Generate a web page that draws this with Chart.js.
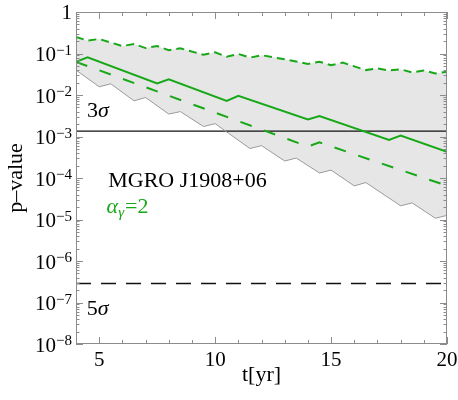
<!DOCTYPE html>
<html>
<head>
<meta charset="utf-8">
<script src="https://cdn.jsdelivr.net/npm/chart.js@4.4.1/dist/chart.umd.min.js"></script>
<style>
  html, body { margin: 0; padding: 0; background: #fff; }
  #wrap { width: 458px; height: 400px; }
</style>
</head>
<body>
<div id="wrap"><canvas id="pv" width="458" height="400"></canvas></div>
<script>
/* ===== p-value vs. observation time ===== */
(function () {
  "use strict";

  // (p-values)
  var solidYears = [4, 4.5, 7.5, 8, 10.5, 11, 14, 14.5, 17.5, 18, 20];
  var solidP = [0.063, 0.081, 0.0191, 0.024, 0.0072, 0.0095, 0.00257, 0.0031, 8.3e-4, 1.05e-3, 4.3e-4];

  var dashedYears = [4, 14, 14.5, 20];
  var dashedP = [0.063, 5.75e-4, 7.2e-4, 6.5e-5];

  var dottedYears = [4, 4.5, 5, 6, 6.5, 7, 7.5, 8, 8.5, 9.5, 10, 10.5, 11, 11.5, 12, 13, 14, 14.5, 15, 15.5, 16.5, 17, 17.5, 18, 18.5, 19, 19.5, 20];
  var dottedP = [0.251, 0.204, 0.224, 0.151, 0.170, 0.135, 0.151, 0.120, 0.133, 0.0933, 0.107, 0.0832, 0.0977, 0.0794, 0.0912, 0.0724, 0.0562, 0.0631, 0.0525, 0.0603, 0.0398, 0.0437, 0.0389, 0.0417, 0.0347, 0.0389, 0.0331, 0.0363];

  var bandYears = [4, 5, 5.5, 6.5, 7, 8, 8.5, 9.5, 10, 11.5, 12, 13, 13.5, 14.5, 15, 16, 16.5, 18, 18.5, 19.5, 20];
  var bandLowP = [0.0398, 0.0158, 0.0186, 7.24e-3, 8.71e-3, 3.47e-3, 3.98e-3, 1.74e-3, 2.04e-3, 5.13e-4, 6.03e-4, 2.57e-4, 3.02e-4, 1.32e-4, 1.55e-4, 6.46e-5, 7.76e-5, 2.14e-5, 2.51e-5, 1.07e-5, 1.26e-5];

  var sigma3 = 1.35e-3, sigma5 = 2.87e-7;
  var xRange = [4, 20];
  var xMajor = [5, 10, 15, 20];
  var yDecades = [-8, -7, -6, -5, -4, -3, -2, -1, 0];

  var GREEN = "#17a817";
  var SERIF = "'Liberation Serif', 'DejaVu Serif', serif";

  function pts(xs, ys) {
    return xs.map(function (x, i) { return { x: x, y: ys[i] }; });
  }

  function line(label, data, color, width, dash, extra) {
    var d = { label: label, data: data, borderColor: color, borderWidth: width, borderDash: dash || [],
      pointRadius: 0, tension: 0, fill: false };
    for (var k in extra || {}) d[k] = extra[k];
    return d;
  }

  // frame with inward ticks on all sides, tick labels, text
  var framePlugin = {
    id: "frame",
    afterDraw: function (chart) {
      var c = chart.ctx, a = chart.chartArea, xs = chart.scales.x, ys = chart.scales.y;
      c.save();
      c.strokeStyle = "#8c8c8c";
      c.lineWidth = 1;
      c.strokeRect(a.left + 0.5, a.top + 0.5, a.right - a.left - 1, a.bottom - a.top - 1);

      c.beginPath();
      for (var t = xRange[0]; t <= xRange[1]; t++) {
        var px = Math.round(xs.getPixelForValue(t)) + 0.5;
        var len = xMajor.indexOf(t) >= 0 ? 7 : 4;
        c.moveTo(px, a.bottom); c.lineTo(px, a.bottom - len);
        c.moveTo(px, a.top); c.lineTo(px, a.top + len);
      }
      yDecades.forEach(function (e) {
        for (var k = 1; k <= 9; k++) {
          if (e === 0 && k > 1) break;
          var py = Math.round(ys.getPixelForValue(k * Math.pow(10, e))) + 0.5;
          var l = k === 1 ? 7 : 3.5;
          c.moveTo(a.left, py); c.lineTo(a.left + l, py);
          c.moveTo(a.right, py); c.lineTo(a.right - l, py);
        }
      });
      c.stroke();

      // tick labels
      c.fillStyle = "#000";
      c.textBaseline = "alphabetic";
      var rx = a.left - 4;
      yDecades.forEach(function (e) {
        var py = ys.getPixelForValue(Math.pow(10, e));
        if (e === 0) {
          c.font = "21px " + SERIF; c.textAlign = "right";
          c.fillText("1", rx, py + 7);
          return;
        }
        c.font = "15px " + SERIF; c.textAlign = "right";
        var sup = "\u2212" + (-e);
        c.fillText(sup, rx, py + 1);
        var w = c.measureText(sup).width;
        c.font = "21px " + SERIF;
        c.fillText("10", rx - w, py + 7.5);
      });
      c.textAlign = "center";
      c.font = "21px " + SERIF;
      xMajor.forEach(function (t) {
        c.fillText(String(t), xs.getPixelForValue(t), a.bottom + 22);
      });

      // axis titles
      c.font = "22px " + SERIF;
      c.fillText("t[yr]", (a.left + a.right) / 2, a.bottom + 37);
      c.save();
      c.translate(22, (a.top + a.bottom) / 2);
      c.rotate(-Math.PI / 2);
      c.fillText("p\u2013value", 0, 0);
      c.restore();

      // annotations
      c.textAlign = "left";
      sigmaText("3", xs.getPixelForValue(4.47), ys.getPixelForValue(2.95e-3));
      sigmaText("5", xs.getPixelForValue(4.46), ys.getPixelForValue(5.0e-8));
      c.font = "22px " + SERIF;
      c.fillText("MGRO J1908+06", xs.getPixelForValue(5.39), ys.getPixelForValue(6.1e-5));

      var ax = xs.getPixelForValue(5.32), ay = ys.getPixelForValue(1.45e-5);
      c.fillStyle = GREEN;
      c.font = "italic 22px " + SERIF;
      c.fillText("\u03b1", ax, ay);
      ax += c.measureText("\u03b1").width;
      c.font = "italic 15px " + SERIF;
      c.fillText("\u03b3", ax, ay + 4);
      ax += c.measureText("\u03b3").width + 1;
      c.font = "22px " + SERIF;
      c.fillText("=2", ax, ay);
      c.restore();

      function sigmaText(n, x, y) {
        c.font = "22px " + SERIF;
        c.fillText(n, x, y);
        var w = c.measureText(n).width;
        c.font = "italic 22px " + SERIF;
        c.fillText("\u03c3", x + w, y);
      }
    }
  };

  new Chart(document.getElementById("pv"), {
    type: "line",
    data: {
      datasets: [
        line("solid", pts(solidYears, solidP), GREEN, 2),
        line("dashed", pts(dashedYears, dashedP), GREEN, 2, [12, 13]),
        line("dotted", pts(dottedYears, dottedP), GREEN, 2, [8, 5]),
        line("band", pts(bandYears, bandLowP), "#9a9a9a", 1, [], { fill: { target: 2 }, backgroundColor: "#e6e6e6" }),
        line("3sigma", pts(xRange, [sigma3, sigma3]), "#111", 1.3),
        line("5sigma", pts(xRange, [sigma5, sigma5]), "#111", 1.3, [15, 10])
      ]
    },
    options: {
      responsive: false,
      animation: false,
      layout: { padding: { top: 12, right: 11, left: 0, bottom: 0 } },
      plugins: {
        legend: { display: false },
        tooltip: { enabled: false },
        filler: { drawTime: "beforeDatasetsDraw" }
      },
      scales: {
        x: { type: "linear", min: xRange[0], max: xRange[1],
          ticks: { display: false }, grid: { display: false }, border: { display: false },
          afterFit: function (s) { s.height = 56; } },
        y: { type: "logarithmic", min: 1e-8, max: 1,
          ticks: { display: false }, grid: { display: false }, border: { display: false },
          afterFit: function (s) { s.width = 76; } }
      }
    },
    plugins: [framePlugin]
  });
})();
</script>
</body>
</html>
